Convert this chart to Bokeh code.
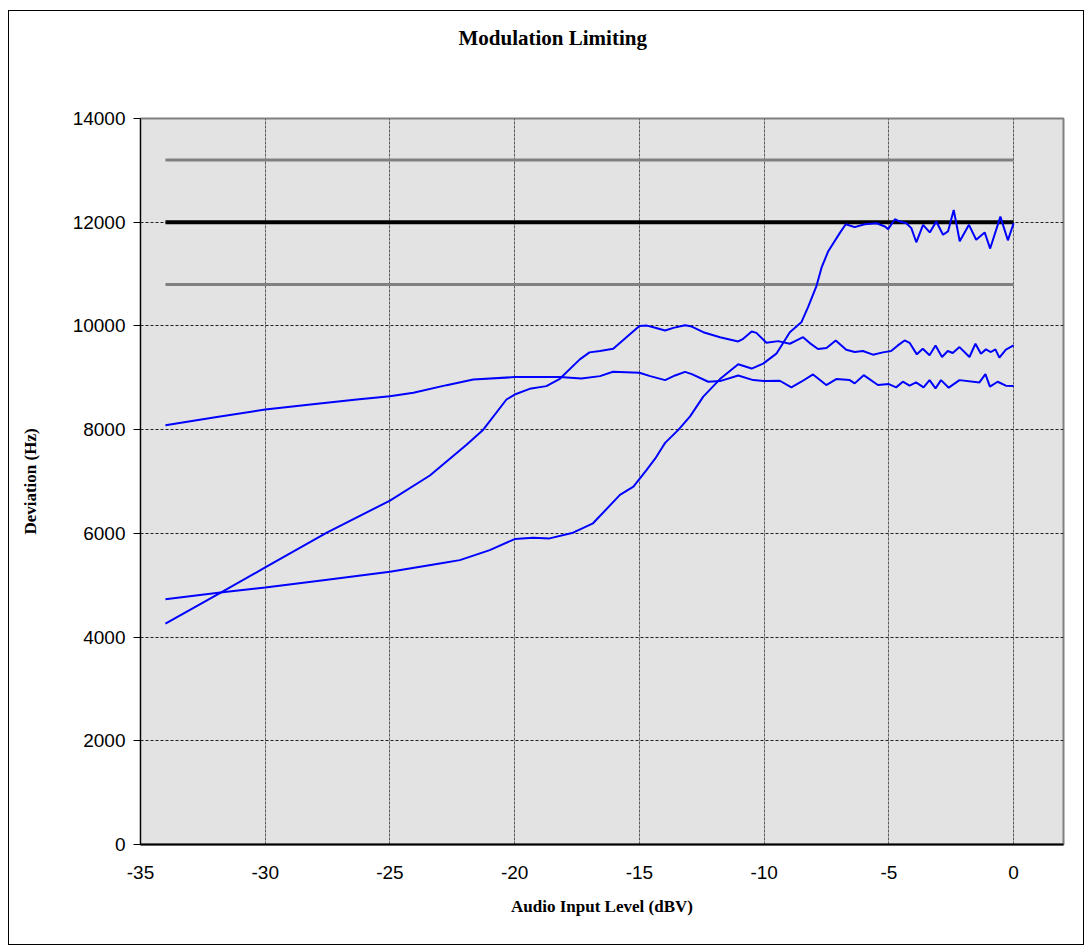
from bokeh.plotting import figure
from bokeh.models import Range1d, FixedTicker, Title
from bokeh.embed import file_html
from bokeh.resources import INLINE

# ---------------- data ----------------
a_x = [-34, -32, -30, -28, -26.33, -25, -24.06, -22.73, -21.66, -20, -18.19, -17.33,
       -16.58, -16.06, -15, -14.57, -13.97, -13.57, -13.17, -12.9, -12.24, -11.77,
       -11.04, -10.44, -10, -9.37, -8.91, -8.51, -8.04, -7.51, -7.11, -6.57, -6.37,
       -6.01, -5.44, -5, -4.71, -4.44, -4.17, -3.91, -3.61, -3.37, -3.13, -2.91,
       -2.6, -2.17, -1.37, -1.13, -0.95, -0.64, -0.31, 0]
a_y = [8084, 8240, 8387, 8495, 8581, 8645, 8710, 8858, 8968, 9013, 9013, 8987,
       9032, 9116, 9097, 9032, 8955, 9045, 9115, 9070, 8924, 8936,
       9045, 8955, 8936, 8943, 8815, 8924, 9064, 8860, 8975, 8955, 8892,
       9051, 8860, 8879, 8815, 8924, 8847, 8911, 8815, 8955, 8796, 8955,
       8809, 8955, 8911, 9070, 8828, 8924, 8847, 8841]

b_x = [-34, -31.8, -30, -27.53, -25, -23.4, -21.93, -21.26, -20.33, -20, -19.4,
       -18.73, -18.19, -17.39, -17.0, -16.58, -16.05, -15.52, -15, -14.7, -14.44,
       -13.97, -13.64, -13.17, -12.9, -12.44, -11.77, -11.04, -10.84, -10.5, -10.31,
       -9.91, -9.44, -8.97, -8.7, -8.44, -8.17, -7.84, -7.5, -7.13, -6.71, -6.37,
       -6.04, -5.64, -5.24, -4.91, -4.64, -4.37, -4.17, -3.88, -3.64, -3.37, -3.13,
       -2.87, -2.64, -2.44, -2.17, -1.77, -1.53, -1.31, -1.11, -0.91, -0.73, -0.57,
       -0.31, 0]
b_y = [4258, 4851, 5342, 6013, 6632, 7116, 7710, 8000, 8581, 8677, 8787,
       8839, 8981, 9355, 9490, 9516, 9560, 9783, 10000, 10006, 9975,
       9911, 9962, 10013, 9987, 9879, 9783, 9700, 9752, 9892, 9866,
       9675, 9707, 9656, 9720, 9783, 9669, 9554, 9573, 9720, 9542, 9497,
       9516, 9446, 9490, 9516, 9624, 9720, 9675, 9452, 9560, 9433, 9624,
       9401, 9516, 9478, 9592, 9401, 9656, 9465, 9548, 9497, 9548, 9389,
       9541, 9624]

c_x = [-34, -31.8, -30, -27.67, -25, -23, -22.2, -21, -20, -19.26, -18.6, -17.66,
       -16.86, -15.78, -15.24, -14.71, -14.37, -14.1, -13.97, -13.43, -12.97,
       -12.44, -11.77, -11.04, -10.5, -10.04, -9.51, -8.97, -8.51, -8.24, -7.9,
       -7.7, -7.43, -6.97, -6.73, -6.37, -5.97, -5.49, -5.16, -5.03, -4.76, -4.56,
       -4.3, -4.1, -3.9, -3.63, -3.36, -3.1, -2.83, -2.63, -2.4, -2.16, -1.79,
       -1.5, -1.16, -0.94, -0.53, -0.23, 0]
c_y = [4729, 4858, 4955, 5097, 5258, 5419, 5484, 5677, 5890, 5916, 5903, 6013,
       6194, 6742, 6903, 7226, 7440, 7645, 7745, 8000, 8255,
       8637, 8975, 9261, 9178, 9274, 9465, 9879, 10070, 10362, 10774,
       11124, 11441, 11790, 11962, 11905, 11962, 11981, 11917, 11867, 12057, 12013,
       11981, 11886, 11613, 11949, 11803, 12013, 11759, 11822, 12235, 11632, 11949,
       11663, 11803, 11492, 12108, 11651, 11981]

ref_x = [-34, 0]
nominal = [12000, 12000]
upper_limit = [13200, 13200]
lower_limit = [10800, 10800]

x_ticks = [-35, -30, -25, -20, -15, -10, -5, 0]
y_ticks = [0, 2000, 4000, 6000, 8000, 10000, 12000, 14000]

title_text = "Modulation Limiting"
x_title = "Audio Input Level (dBV)"
y_title = "Deviation (Hz)"

# ---------------- figure ----------------
p = figure(width=1076, height=935, output_backend="svg", toolbar_location=None,
           x_range=Range1d(-35, 2), y_range=Range1d(0, 14000),
           min_border_left=131, min_border_right=22, min_border_top=107,
           min_border_bottom=102, title=title_text)
p.margin = (10, 0, 0, 8)
p.styles = {"border": "1px solid black"}
p.background_fill_color = "#e3e3e3"
p.border_fill_color = "white"
p.outline_line_color = "#808080"
p.outline_line_width = 2

serif = "Liberation Serif"
sans = "Liberation Sans"

# spacer between the frame and the title (keeps the title high up)
p.add_layout(Title(text=" ", text_font_size="1px", standoff=66), "above")

# title
p.title.text_font = serif
p.title.text_font_style = "bold"
p.title.text_font_size = "21px"
p.title.text_color = "black"
p.title.align = "left"
p.title.offset = 318
p.title.standoff = 0

# axes
p.xaxis.ticker = FixedTicker(ticks=x_ticks)
p.yaxis.ticker = FixedTicker(ticks=y_ticks)
p.xaxis.major_label_overrides = {t: str(t) for t in x_ticks}
p.yaxis.major_label_overrides = {t: str(t) for t in y_ticks}
p.xaxis.major_tick_out = 0
p.xaxis.major_tick_in = 0
p.xaxis.minor_tick_out = 0
p.xaxis.minor_tick_in = 0
p.yaxis.major_tick_out = 7
p.yaxis.major_tick_in = 0
p.yaxis.minor_tick_out = 0
p.yaxis.minor_tick_in = 0
p.xaxis.axis_line_width = 2
p.yaxis.axis_line_width = 1
p.xaxis.axis_line_color = "black"
p.yaxis.axis_line_color = "black"
p.yaxis.major_tick_line_color = "black"
for ax in (p.xaxis, p.yaxis):
    ax.major_label_text_font = sans
    ax.major_label_text_font_size = "19px"
    ax.major_label_text_color = "black"
    ax.axis_label_text_font = serif
    ax.axis_label_text_font_style = "bold"
    ax.axis_label_text_font_size = "17px"
    ax.axis_label_text_color = "black"
p.xaxis.major_label_standoff = 21
p.yaxis.major_label_standoff = 8
p.xaxis.axis_label = x_title
p.yaxis.axis_label = y_title
p.xaxis.axis_label_standoff = 15
p.yaxis.axis_label_standoff = 30

# grids
p.xgrid.ticker = FixedTicker(ticks=x_ticks)
p.ygrid.ticker = FixedTicker(ticks=y_ticks)
p.xgrid.grid_line_color = "#5a5a5a"
p.xgrid.grid_line_dash = "3 1"
p.xgrid.grid_line_width = 1
p.ygrid.grid_line_color = "#202020"
p.ygrid.grid_line_dash = "3 2"
p.ygrid.grid_line_width = 1

# reference lines
p.line(ref_x, upper_limit, line_color="#808080", line_width=3)
p.line(ref_x, lower_limit, line_color="#808080", line_width=3)
p.line(ref_x, nominal, line_color="black", line_width=4)

# curves
for xs, ys in ((a_x, a_y), (b_x, b_y), (c_x, c_y)):
    p.line(xs, ys, line_color="#0000ff", line_width=2)

open("out.html", "w").write(file_html(p, INLINE))
